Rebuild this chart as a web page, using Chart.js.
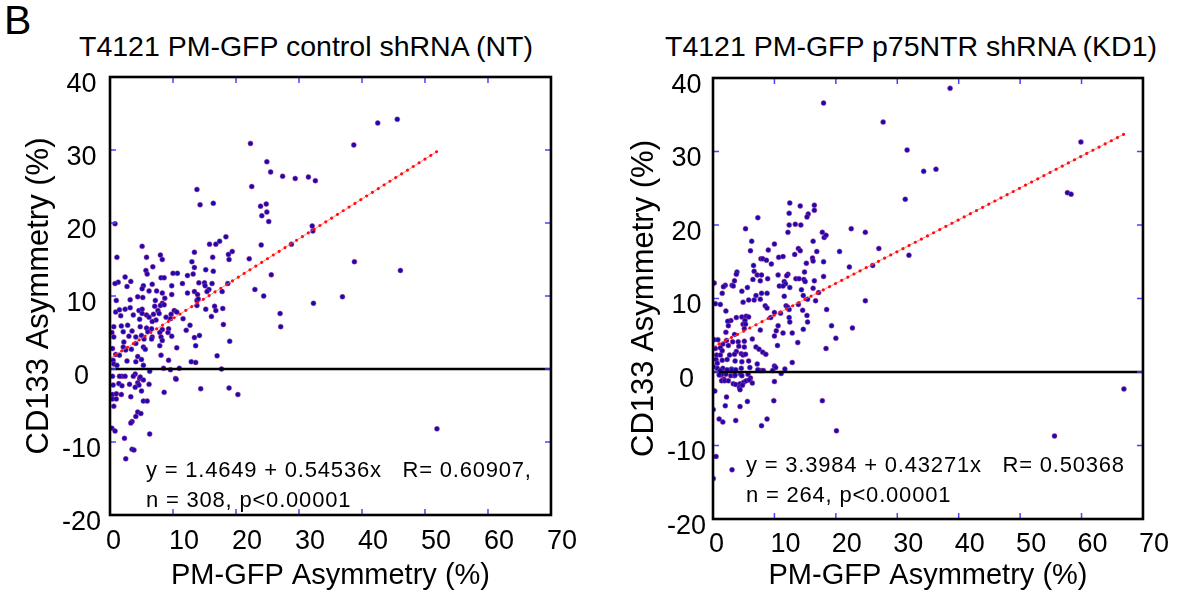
<!DOCTYPE html>
<html>
<head>
<meta charset="utf-8">
<script src="https://cdn.jsdelivr.net/npm/chart.js@4/dist/chart.umd.min.js"></script>
<style>
  body { margin: 0; background: #fff; width: 1182px; height: 594px; position: relative; overflow: hidden;
         font-family: "Liberation Sans", Arial, sans-serif; color: #000; }
  .pane { position: absolute; top: 0; width: 591px; height: 594px; }
  .txt { position: absolute; white-space: pre; line-height: 1; }
  .note { font-size: 22px; letter-spacing: 0.8px; }
</style>
</head>
<body>
<div class="txt" style="left:4px;top:0px;font-size:41px">B</div>
<div class="txt" style="left:6px;width:600px;top:32px;font-size:28.5px;text-align:center">T4121 PM-GFP control shRNA (NT)</div>
<div class="txt" style="left:611px;width:600px;top:32px;font-size:28.5px;text-align:center">T4121 PM-GFP p75NTR shRNA (KD1)</div>

<div class="pane" style="left:0"><canvas id="nt" width="591" height="594"></canvas></div>
<div class="pane" style="left:591px"><canvas id="kd" width="591" height="594"></canvas></div>

<div class="txt note" style="left:146px;top:459px">y = 1.4649 + 0.54536x   R= 0.60907,</div>
<div class="txt note" style="left:146px;top:489px">n = 308, p&lt;0.00001</div>
<div class="txt note" style="left:746px;top:454px">y = 3.3984 + 0.43271x   R= 0.50368</div>
<div class="txt note" style="left:746px;top:484px">n = 264, p&lt;0.00001</div>

<script>
// axis ticks
var xTickValues = [0, 10, 20, 30, 40, 50, 60, 70];
var yTickValues = [-20, -10, 0, 10, 20, 30, 40];

// control shRNA (NT): PM-GFP asymmetry (x) / CD133 asymmetry (y)
var ntGfp = [22.3,24.9,25.5,27.4,29.4,13.8,22.5,14.3,16.4,23.9,24.8,24.9,24.1,25.2,0.8,
  42.5,45.6,38.7,31.5,32.6,32.1,32.2,28.8,38.8,46.1,36.9,32.3,27.0,27.1,51.9,24.0,25.6,23.0,24.4,
  18.4,17.4,15.8,16.8,5.1,19.4,18.8,13.4,1.1,8.0,8.3,5.8,16.3,18.9,22.1,13.0,13.4,6.8,15.2,16.4,
  5.7,5.9,10.0,10.7,13.2,12.3,2.4,8.1,8.6,1.3,0.8,3.3,2.7,11.5,14.1,15.0,16.2,18.7,5.3,6.7,9.8,
  15.1,5.1,15.7,6.2,7.4,8.3,12.3,13.4,15.4,17.8,9.8,13.9,4.4,5.2,3.2,8.7,13.8,14.0,7.2,1.0,8.3,
  8.0,13.8,10.2,10.6,15.2,16.6,16.8,17.9,0.9,1.5,2.4,3.2,4.6,5.1,7.1,7.6,8.6,3.7,5.1,5.8,6.9,
  7.8,9.7,1.7,9.6,8.9,11.6,16.1,7.3,6.2,6.7,4.7,2.8,1.8,0.6,4.8,5.8,6.6,8.3,9.3,12.7,12.1,18.0,
  3.5,2.1,6.0,7.9,9.2,0.3,5.0,4.1,3.0,0.6,6.7,8.1,9.8,14.2,13.4,6.6,8.3,5.4,2.2,4.1,2.1,5.3,7.9,
  10.6,13.6,19.0,0.4,2.5,3.4,5.6,0.9,1.5,8.1,4.4,5.0,17.0,0.5,2.7,4.1,9.3,12.9,13.6,0.6,1.1,5.3,
  8.5,11.0,6.3,4.0,4.7,1.9,2.4,1.5,0.4,10.4,17.7,9.6,3.7,
  4.8,5.3,1.4,0.5,1.9,3.1,4.4,4.6,6.2,4.0,5.0,8.6,10.5,14.4,18.9,20.3,0.4,1.0,1.8,3.3,0.4,1.0,
  5.3,5.9,0.6,4.4,4.9,4.1,3.5,3.3,0.3,0.8,6.3,2.3,3.5,3.8,2.5];
var ntCd133 = [30.9,28.4,27.0,26.4,26.1,24.6,25.0,22.5,22.7,22.3,22.6,21.5,21.0,20.2,19.9,
  33.7,34.2,30.7,26.3,25.8,19.6,18.9,17.1,14.7,13.5,9.9,9.0,7.6,5.8,-8.2,17.0,12.9,10.9,10.0,
  18.1,17.5,17.1,17.1,16.8,16.1,15.7,16.0,15.3,15.6,15.0,15.3,15.3,15.0,15.1,14.7,13.9,14.0,13.6,13.4,
  13.5,13.0,13.1,13.1,13.0,12.8,12.6,12.5,12.5,11.9,11.7,12.0,11.3,11.7,11.8,11.8,11.7,11.7,11.4,11.6,11.4,
  11.4,11.0,10.9,10.7,10.7,10.4,10.4,10.6,10.6,10.6,10.2,10.2,9.9,9.8,9.5,9.7,9.4,9.6,9.4,9.4,9.0,
  8.7,8.7,8.0,7.8,8.2,8.6,8.0,8.3,7.8,8.1,8.2,8.4,8.0,8.2,8.6,8.0,8.8,7.4,7.6,7.4,7.5,
  7.6,7.5,7.3,6.9,7.1,6.9,7.2,6.7,7.1,6.5,6.8,6.0,5.9,5.8,5.8,5.6,5.5,5.4,5.5,6.0,5.3,6.1,
  5.2,5.1,5.1,5.0,5.0,5.0,4.6,4.4,4.5,4.4,4.4,4.4,4.5,4.6,4.3,4.1,3.9,4.1,3.7,3.5,3.0,3.0,3.2,
  2.9,3.2,3.8,2.8,2.6,2.7,2.7,2.0,1.9,1.9,1.7,1.3,1.8,1.2,1.1,1.0,1.2,1.0,0.9,0.7,0.5,0.5,
  0.1,0.1,-0.3,-0.7,-1.3,-1.0,-1.0,-1.0,-1.0,-1.3,0.0,-0.1,-1.0,
  -1.1,-1.5,-2.0,-2.2,-2.3,-2.1,-1.9,-2.2,-2.1,-2.5,-3.0,-3.2,-1.4,-2.7,-2.6,-3.5,-3.5,-3.4,-3.5,-3.8,-4.1,-4.1,
  -4.4,-4.4,-5.1,-5.9,-6.1,-6.5,-7.2,-7.4,-8.1,-8.5,-8.9,-9.5,-11.0,-11.1,-12.3];

// p75NTR shRNA (KD1)
var kdGfp = [18.0,27.7,12.5,14.2,16.5,12.4,16.5,15.5,15.3,7.3,12.4,13.4,14.3,5.3,22.5,
  38.6,31.6,34.3,36.3,31.3,59.9,57.7,58.3,27.0,31.9,66.9,55.6,
  24.8,17.8,18.1,18.4,12.2,6.3,16.3,10.0,6.1,9.0,13.9,14.2,13.3,16.9,20.6,10.7,11.4,7.8,8.1,8.7,
  16.2,16.3,9.5,6.6,15.2,18.0,22.2,26.0,3.9,3.8,6.7,14.9,12.2,12.0,10.6,7.2,7.9,18.0,13.5,14.0,
  14.8,6.5,7.7,8.9,15.0,16.5,11.6,11.8,3.5,3.1,3.3,2.0,1.7,0.2,10.8,11.4,12.5,5.6,14.4,16.3,4.7,
  1.5,7.0,7.9,8.8,11.6,14.7,17.2,15.4,16.7,24.8,4.9,5.8,6.7,7.7,0.4,1.2,8.5,8.8,11.9,12.2,13.9,
  18.5,10.0,11.0,12.4,14.6,2.1,3.8,4.7,5.4,5.8,2.9,2.4,9.4,12.4,15.3,5.2,4.9,5.3,2.5,19.3,22.7,
  10.6,15.4,12.5,7.7,5.1,10.3,11.4,12.9,14.7,2.1,3.5,10.0,6.4,13.8,20.0,0.2,0.8,2.2,3.2,4.1,5.1,
  10.5,1.6,2.5,4.2,5.1,18.4,0.4,1.2,7.0,7.5,8.1,8.6,3.8,1.5,0.6,1.2,2.7,3.5,4.6,4.9,5.3,0.5,
  1.5,2.3,3.6,4.7,5.8,12.9,0.7,7.2,3.0,0.7,1.6,6.0,7.8,10.0,10.2,11.7,1.3,2.1,2.9,3.5,4.5,5.7,
  6.1,11.1,7.5,1.8,
  7.3,8.2,9.7,0.05,1.2,1.4,1.0,2.3,3.1,3.7,4.6,3.6,4.7,1.4,1.9,2.5,3.3,3.7,4.4,5.0,5.4,5.9,6.4,
  4.3,4.4,4.8,10.0,0.3,2.2,2.0,4.4,5.6,9.9,17.8,0.05,1.0,1.6,3.7,8.8,7.9,20.1,0.5,3.1,0.05];
var kdCd133 = [36.6,34.0,23.0,22.6,22.7,21.6,22.0,21.5,21.1,21.0,20.0,20.1,20.0,19.5,19.5,
  38.6,30.2,27.3,27.6,23.5,31.3,24.4,24.2,16.8,15.9,-2.3,-8.7,
  19.0,19.0,18.3,18.6,19.0,17.8,17.8,17.4,16.5,16.6,16.8,16.5,16.0,16.4,16.4,15.6,15.7,15.4,15.4,15.2,
  15.5,15.1,14.7,14.5,14.8,15.0,14.3,14.5,13.6,13.3,13.7,13.6,13.3,13.1,13.2,13.2,13.2,13.0,12.7,12.7,
  12.6,12.6,12.4,12.7,12.3,12.4,12.3,12.0,12.4,11.8,11.7,11.8,11.6,12.1,11.7,11.7,11.5,11.5,11.2,11.4,11.0,
  10.7,10.4,10.7,10.7,10.3,10.4,10.8,9.9,9.7,9.7,9.5,9.8,9.8,9.9,9.3,9.2,9.0,8.7,9.0,8.8,9.2,
  8.5,8.1,8.0,8.5,8.4,8.3,7.4,7.5,7.6,7.5,7.0,6.9,7.4,7.4,7.7,7.0,6.5,6.5,6.3,6.3,6.0,
  6.3,6.8,6.8,5.7,5.9,5.6,5.3,5.3,5.8,5.4,5.1,4.9,4.5,4.0,4.6,4.4,4.4,4.3,4.1,4.1,4.2,
  3.6,3.8,3.6,3.5,3.4,3.2,3.2,3.3,3.4,3.1,2.7,2.4,2.8,2.9,2.3,2.3,2.3,2.4,2.5,2.3,2.4,1.7,
  1.6,1.7,1.5,1.4,1.5,1.3,1.2,1.1,0.4,0.5,0.5,0.6,0.2,0.8,0.6,0.4,-0.4,-0.3,-0.5,-0.5,-0.3,-0.3,
  -0.8,-0.2,0.2,-1.0,
  0.3,0.2,0.2,0.7,0.2,-0.3,-0.4,0.3,0.3,0.3,0.5,-0.4,-0.5,-1.2,-1.2,-1.2,-1.6,-1.7,-1.6,-1.4,-1.2,-1.1,-1.5,
  -2.1,-2.4,-1.8,-1.3,-2.6,-3.4,-4.6,-4.7,-4.0,-3.9,-3.9,-5.1,-6.4,-6.8,-6.6,-6.4,-7.3,-8.0,-11.5,-13.3,-14.5];

// fitted lines, end points
var ntFitX = [0, 52.1];
var ntFitY = [1.46, 29.9];
var kdFitX = [0, 67.0];
var kdFitY = [3.40, 32.4];

function pairs(xs, ys) {
  return xs.map(function(v, i) { return { x: v, y: ys[i] }; });
}

// frame, inward blue ticks on all four sides, zero line
var framePlugin = {
  id: 'frame',
  afterDatasetsDraw: function(chart) {
    var ctx = chart.ctx, a = chart.chartArea, x = chart.scales.x, y = chart.scales.y;
    ctx.save();
    var y0 = y.getPixelForValue(0);
    ctx.strokeStyle = '#000';
    ctx.lineWidth = 2.6;
    ctx.beginPath(); ctx.moveTo(a.left, y0); ctx.lineTo(a.right, y0); ctx.stroke();

    ctx.strokeStyle = '#4646ff';
    ctx.lineWidth = 1.5;
    ctx.beginPath();
    xTickValues.forEach(function(v) {
      if (v <= x.min || v >= x.max) return;
      var px = x.getPixelForValue(v);
      ctx.moveTo(px, a.bottom); ctx.lineTo(px, a.bottom - 6);
      ctx.moveTo(px, a.top); ctx.lineTo(px, a.top + 6);
    });
    yTickValues.forEach(function(v) {
      if (v <= y.min || v >= y.max) return;
      var py = y.getPixelForValue(v);
      ctx.moveTo(a.left, py); ctx.lineTo(a.left + 6, py);
      ctx.moveTo(a.right, py); ctx.lineTo(a.right - 6, py);
    });
    ctx.stroke();

    ctx.strokeStyle = '#000';
    ctx.lineWidth = 2.6;
    ctx.strokeRect(a.left, a.top, a.right - a.left, a.bottom - a.top);
    ctx.restore();
  }
};

function makeChart(id, pts, fit, box) {
  var tickFont = { family: 'Liberation Sans', size: 27 };
  var xTitleFont = { family: 'Liberation Sans', size: 29 };
  var yTitleFont = { family: 'Liberation Sans', size: 31 };
  return new Chart(document.getElementById(id).getContext('2d'), {
    type: 'scatter',
    data: {
      datasets: [{
        data: fit,
        showLine: true,
        borderColor: 'rgba(255,110,110,0.8)',
        borderWidth: 1,
        pointRadius: 0,
        order: 2
      }, {
        data: fit,
        showLine: true,
        borderColor: '#ff1010',
        borderWidth: 3,
        borderDash: [0.1, 6.8],
        borderCapStyle: 'round',
        pointRadius: 0,
        order: 1
      }, {
        data: pts,
        pointRadius: 2.5,
        pointBackgroundColor: '#1a08b0',
        pointBorderColor: 'rgba(190,60,140,0.7)',
        pointBorderWidth: 0.7,
        order: 3
      }]
    },
    options: {
      responsive: false,
      devicePixelRatio: 1,
      animation: false,
      layout: { padding: { left: 0, top: box.top, right: box.right, bottom: 0 } },
      plugins: { legend: { display: false }, tooltip: { enabled: false } },
      scales: {
        x: {
          type: 'linear', min: 0, max: 70,
          afterBuildTicks: function(s) { s.ticks = xTickValues.map(function(v) { return { value: v }; }); },
          afterFit: function(s) { s.height = box.xh; },
          grid: { display: false, drawTicks: false },
          border: { display: false },
          ticks: { color: '#000', font: tickFont, padding: box.xpad, maxRotation: 0,
                   align: 'start', labelOffset: -4 },
          title: { display: true, text: 'PM-GFP Asymmetry (%)', color: '#000', font: xTitleFont,
                   padding: { top: 0, bottom: 1 } }
        },
        y: {
          type: 'linear', min: -20, max: 40,
          afterBuildTicks: function(s) { s.ticks = yTickValues.map(function(v) { return { value: v }; }); },
          afterFit: function(s) { s.width = box.yw; },
          grid: { display: false, drawTicks: false },
          border: { display: false },
          ticks: { color: '#000', font: tickFont, padding: box.ypad, crossAlign: 'center', labelOffset: 7.5 },
          title: { display: true, text: 'CD133 Asymmetry (%)', color: '#000', font: yTitleFont,
                   padding: { top: box.ytp, bottom: 0 } }
        }
      }
    },
    plugins: [framePlugin]
  });
}

makeChart('nt', pairs(ntGfp, ntCd133), pairs(ntFitX, ntFitY),
  { top: 77, right: 40, xh: 79, yw: 110, xpad: 10, ypad: 9, ytp: 21 });
makeChart('kd', pairs(kdGfp, kdCd133), pairs(kdFitX, kdFitY),
  { top: 78, right: 27, xh: 75, yw: 122, xpad: 9, ypad: 7, ytp: 35 });
</script>
</body>
</html>
